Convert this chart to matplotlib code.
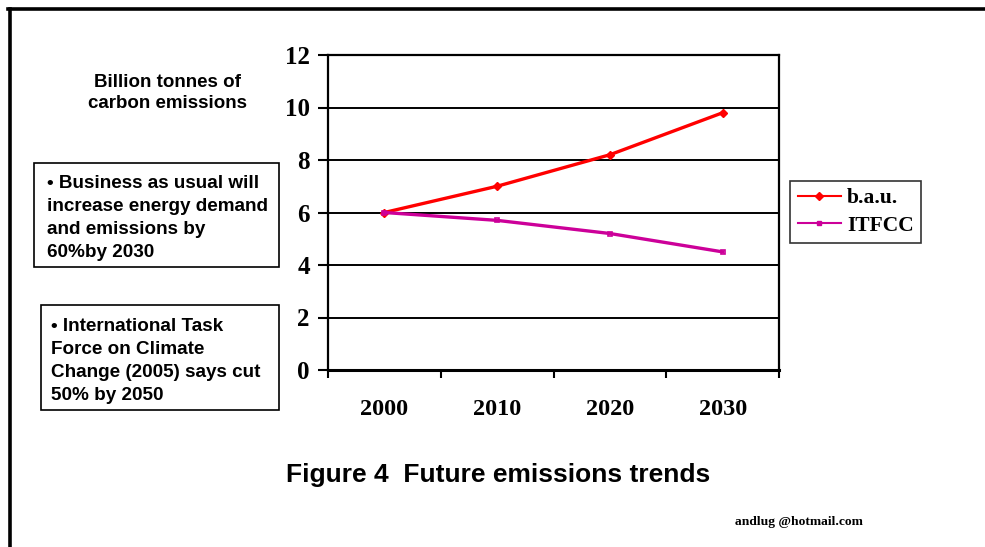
import matplotlib.pyplot as plt
from matplotlib.lines import Line2D
from matplotlib.patches import Rectangle

# ── Data ───────────────────────────────────────────────────────
YEARS = ["2000", "2010", "2020", "2030"]
BAU = [6.0, 7.0, 8.2, 9.8]
ITFCC = [6.0, 5.7, 5.2, 4.5]
Y_TICKS = [0, 2, 4, 6, 8, 10, 12]

RED = "#ff0000"
MAGENTA = "#cc0099"
SERIF = ["Liberation Serif", "DejaVu Serif"]
SANS = ["Liberation Sans", "DejaVu Sans"]

fig = plt.figure(figsize=(9.85, 5.47), dpi=100)
ax = fig.add_axes([328 / 985, 1 - 370 / 547, 451 / 985, 315 / 547])

x = list(range(len(YEARS)))
ax.plot(x, BAU, color=RED, lw=2.4, marker="D", ms=4, zorder=3)
ax.plot(x, ITFCC, color=MAGENTA, lw=2.4, marker="s", ms=3.5,
        mfc="none", mew=1.2, zorder=3)

ax.set_xlim(-0.5, len(YEARS) - 0.5)
ax.set_ylim(0, 12)
ax.set_yticks(Y_TICKS)
ax.set_yticklabels([str(v) for v in Y_TICKS], fontfamily=SERIF,
                   fontweight="bold", fontsize=18)
ax.tick_params(axis="y", direction="out", length=7, width=1.5, pad=6)

# category boundaries as ticks, year labels centred between them
ax.set_xticks([i - 0.5 for i in range(len(YEARS) + 1)])
ax.set_xticklabels([])
ax.tick_params(axis="x", which="major", direction="out", length=6, width=1.5)
ax.set_xticks(x, minor=True)
ax.set_xticklabels(YEARS, minor=True, fontfamily=SERIF,
                   fontweight="bold", fontsize=17.5)
ax.tick_params(axis="x", which="minor", length=0, pad=21)

ax.grid(axis="y", color="black", lw=1.4)
ax.set_axisbelow(True)
for side in ["left", "right", "top"]:
    ax.spines[side].set_linewidth(1.6)
ax.spines["bottom"].set_linewidth(2.2)

# legend
handles = [Line2D([], [], color=RED, lw=1.5, marker="D", ms=4),
           Line2D([], [], color=MAGENTA, lw=1.5, marker="s", ms=3)]
leg = fig.legend(handles, ["b.a.u.", "ITFCC"], loc="center left",
                 bbox_to_anchor=(790 / 985, 1 - 212 / 547),
                 prop={"family": SERIF, "weight": "bold", "size": 15.5},
                 frameon=True, fancybox=False, edgecolor="black",
                 handlelength=2.0, handletextpad=0.3, borderpad=0.35,
                 labelspacing=0.35, borderaxespad=0)
leg.get_frame().set_linewidth(1.2)

# ── Side notes ─────────────────────────────────────────────────
def px(xp, yp):
    return xp / 985, 1 - yp / 547

fig.text(*px(167, 93), "Billion tonnes of\ncarbon emissions", ha="center",
         va="center", fontfamily=SANS, fontweight="bold", fontsize=13.5,
         linespacing=1.38)

for (x0, y0, x1, y1) in [(34, 163, 279, 267), (41, 305, 279, 410)]:
    fig.patches.append(Rectangle(px(x0, y1), (x1 - x0) / 985,
                                 (y1 - y0) / 547, transform=fig.transFigure,
                                 fill=False, ec="black", lw=1.2))

fig.text(*px(47, 218), "• Business as usual will\nincrease energy demand\n"
         "and emissions by\n60%by 2030", ha="left", va="center",
         fontfamily=SANS, fontweight="bold", fontsize=13.6, linespacing=1.45)
fig.text(*px(51, 361), "• International Task\nForce on Climate\n"
         "Change (2005) says cut\n50% by 2050", ha="left", va="center",
         fontfamily=SANS, fontweight="bold", fontsize=13.6, linespacing=1.45)

fig.text(*px(498, 475), "Figure 4  Future emissions trends", ha="center",
         va="center", fontfamily=SANS, fontweight="bold", fontsize=19)
fig.text(*px(799, 522), "andlug @hotmail.com", ha="center", va="center",
         fontfamily=SERIF, fontweight="bold", fontsize=9.7)

# page border on left and top
fig.add_artist(Line2D([9.5 / 985, 9.5 / 985], [0, 1 - 8.5 / 547],
                      transform=fig.transFigure, color="black", lw=2.6))
fig.add_artist(Line2D([8 / 985, 1], [1 - 8.5 / 547, 1 - 8.5 / 547],
                      transform=fig.transFigure, color="black", lw=2.6))

fig.savefig("out.png", dpi=100)
